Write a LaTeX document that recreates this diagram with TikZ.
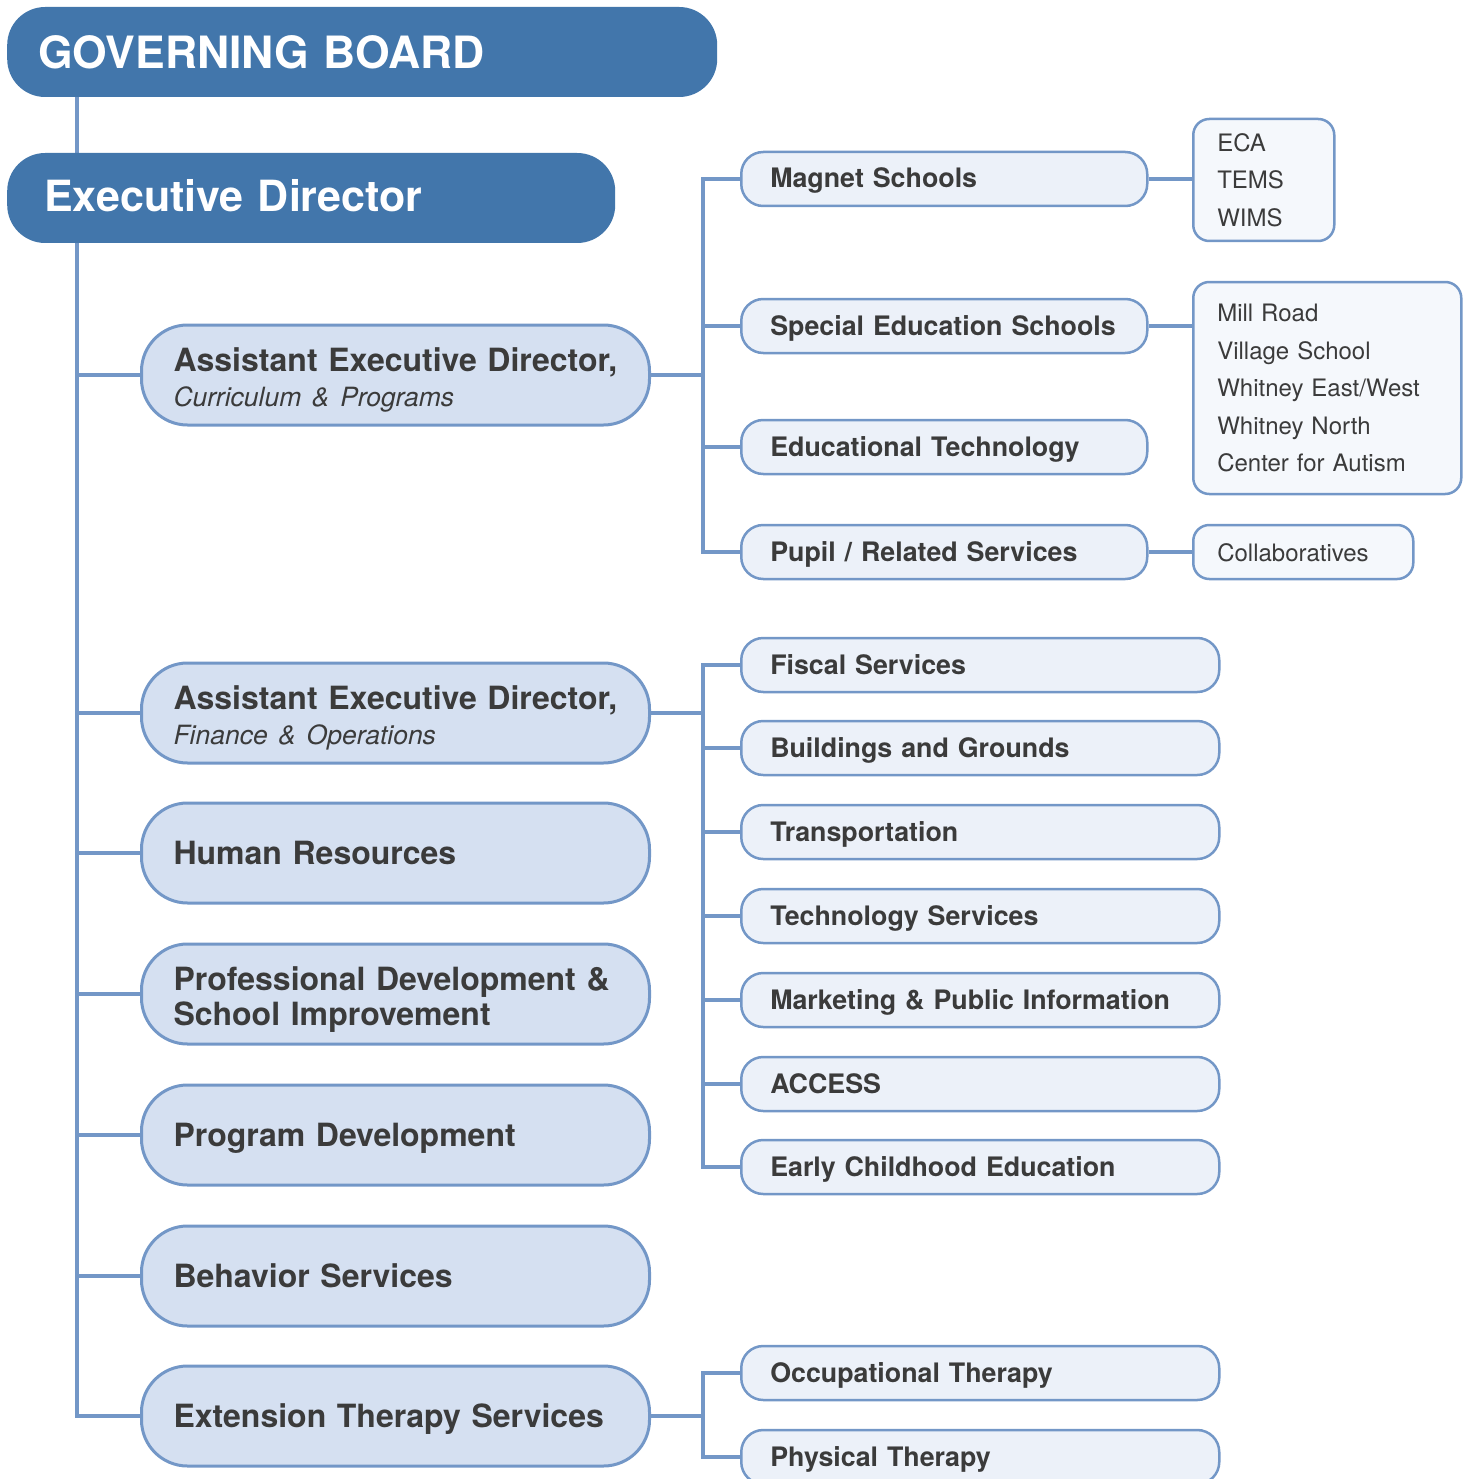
\documentclass[tikz,border=0pt]{standalone}
\usepackage{fontspec}
\setmainfont{TeX Gyre Heros}
\usetikzlibrary{backgrounds}
\definecolor{boardblue}{HTML}{4276AB}
\definecolor{linkblue}{HTML}{7397C7}
\definecolor{unitfill}{HTML}{D5E0F1}
\definecolor{deptfill}{HTML}{ECF1F9}
\definecolor{listfill}{HTML}{F5F8FC}
\definecolor{textgray}{HTML}{3B3B3B}
\tikzset{
  topnode/.style  = {shape=rectangle, rounded corners=38pt, fill=boardblue,
                     text=white, align=left, anchor=west, minimum height=90pt},
  board/.style    = {topnode, inner xsep=31pt, text width=648pt,
                     text height=42pt, text depth=8pt,
                     font=\bfseries\fontsize{44.5}{50}\selectfont},
  director/.style = {topnode, inner xsep=37pt, text width=534pt,
                     text height=36pt, text depth=8pt,
                     font=\bfseries\fontsize{43}{48}\selectfont},
  unit/.style     = {shape=rectangle, rounded corners=46pt, draw=linkblue,
                     line width=3pt, fill=unitfill, text=textgray,
                     align=left, anchor=west, inner xsep=32pt,
                     text width=444pt, minimum height=100pt,
                     execute at begin node=\rule{0pt}{34pt},
                     font=\bfseries\fontsize{32}{35}\selectfont},
  unitone/.style  = {unit, text height=30pt, text depth=8pt},
  dept/.style     = {shape=rectangle, rounded corners=22pt, draw=linkblue,
                     line width=2.5pt, fill=deptfill, text=textgray,
                     align=left, anchor=west, inner xsep=29pt,
                     text width=348pt, minimum height=54pt,
                     text height=24pt, text depth=6pt,
                     font=\bfseries\fontsize{26.8}{30}\selectfont},
  deptwide/.style = {dept, text width=420pt},
  list/.style     = {shape=rectangle, rounded corners=16pt, draw=linkblue,
                     line width=2.5pt, fill=listfill, text=textgray,
                     align=left, anchor=west, inner xsep=24pt,
                     font=\fontsize{24}{37.5}\selectfont},
  link/.style     = {draw=linkblue, line width=4.5pt}
}

\begin{document}
\begin{tikzpicture}[x=1pt, y=-1pt]
  \useasboundingbox (0,0) rectangle (1467,1479);

  % top of the chart
  \node [board]    (gb) at (7,52)  {GOVERNING BOARD};
  \node [director] (ed) at (7,198) {Executive Director};

  % second level
  \node [unit] (aedc) at (140,375)
    {Assistant Executive Director,\\
     {\mdseries\itshape\fontsize{26.5}{32}\selectfont Curriculum \& Programs}};
  \node [unit] (aedf) at (140,713)
    {Assistant Executive Director,\\
     {\mdseries\itshape\fontsize{26.5}{32}\selectfont Finance \& Operations}};
  \node [unitone] (hr)   at (140,853)  {Human Resources};
  \node [unit]    (pd)   at (140,994)  {Professional Development \&\\ School Improvement};
  \node [unitone] (prd)  at (140,1135) {Program Development};
  \node [unitone] (bs)   at (140,1276) {Behavior Services};
  \node [unitone] (ets)  at (140,1416) {Extension Therapy Services};

  % curriculum & programs
  \node [dept] (ms)  at (740,179) {Magnet Schools};
  \node [dept] (ses) at (740,326) {Special Education Schools};
  \node [dept] (et)  at (740,447) {Educational Technology};
  \node [dept] (prs) at (740,552) {Pupil / Related Services};

  \node [list, text width=93pt, minimum height=122pt]  (eca)  at (1192,180)
    {ECA\\ TEMS\\ WIMS};
  \node [list, text width=220pt, minimum height=212pt] (mill) at (1192,388)
    {Mill Road\\ Village School\\ Whitney East/West\\ Whitney North\\ Center for Autism};
  \node [list, text width=172pt, minimum height=54pt, text height=24pt, text depth=6pt]
    (coll) at (1192,552) {Collaboratives};

  % finance & operations
  \node [deptwide] (fs)  at (740,665)  {Fiscal Services};
  \node [deptwide] (bg)  at (740,748)  {Buildings and Grounds};
  \node [deptwide] (tr)  at (740,832)  {Transportation};
  \node [deptwide] (ts)  at (740,916)  {Technology Services};
  \node [deptwide] (mpi) at (740,1000) {Marketing \& Public Information};
  \node [deptwide] (acc) at (740,1084) {ACCESS};
  \node [deptwide] (ece) at (740,1167) {Early Childhood Education};

  % therapy
  \node [deptwide] (ot) at (740,1373) {Occupational Therapy};
  \node [deptwide] (pt) at (740,1457) {Physical Therapy};

  \begin{scope}[on background layer]
    \coordinate (tk) at (77,0);
    \coordinate (br) at (703,0);
    \draw [link] (gb.south -| tk) -- (ed.north -| tk);
    \foreach \u in {aedc,aedf,hr,pd,prd,bs,ets}
      \draw [link] (ed.south -| tk) |- (\u.west);
    \foreach \d in {ms,ses,et,prs}
      \draw [link] (aedc.east) -- (aedc.east -| br) |- (\d.west);
    \foreach \d in {fs,bg,tr,ts,mpi,acc,ece}
      \draw [link] (aedf.east) -- (aedf.east -| br) |- (\d.west);
    \foreach \d in {ot,pt}
      \draw [link] (ets.east) -- (ets.east -| br) |- (\d.west);
    \draw [link] (ms.east)  -- (ms.east -| eca.west);
    \draw [link] (ses.east) -- (ses.east -| mill.west);
    \draw [link] (prs.east) -- (prs.east -| coll.west);
  \end{scope}
\end{tikzpicture}
\end{document}
